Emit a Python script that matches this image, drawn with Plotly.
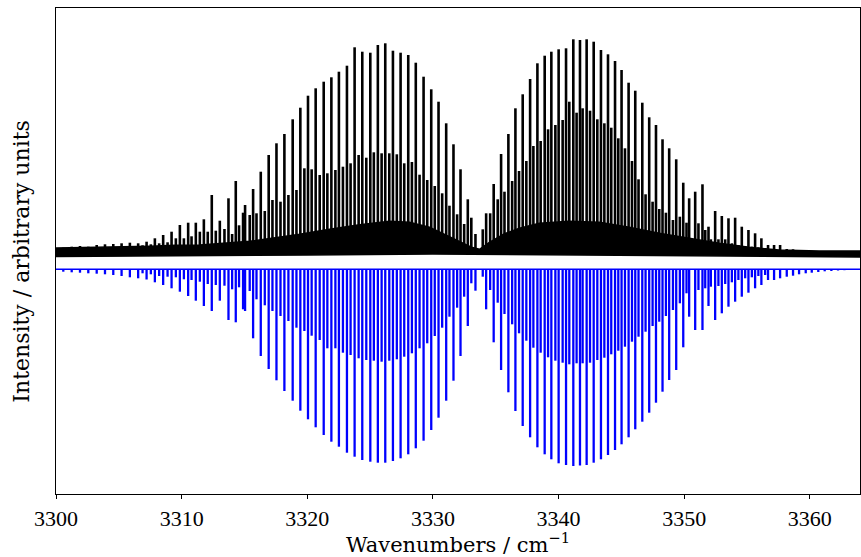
import plotly.graph_objects as go

# ---- strong series (alternating-intensity branch lines) ----
s_pos = [3300.58, 3301.25, 3301.91, 3302.57, 3303.24, 3303.90, 3304.56, 3305.22, 3305.88, 3306.54,
         3307.21, 3307.87, 3308.53, 3309.20, 3309.86, 3310.52, 3311.13, 3311.77, 3312.40, 3313.04,
         3313.73, 3314.31, 3315.05, 3315.69, 3316.30, 3316.93, 3317.55, 3318.18, 3318.84, 3319.45,
         3320.06, 3320.67, 3321.31, 3321.92, 3322.52, 3323.16, 3323.77, 3324.38, 3325.02, 3325.62,
         3326.21, 3326.82, 3327.43, 3328.04, 3328.64, 3329.26, 3329.87, 3330.45, 3331.06, 3331.64,
         3332.20, 3332.78, 3333.39, 3334.24, 3334.84, 3335.43, 3336.01, 3336.57, 3337.15, 3337.74,
         3338.32, 3338.90, 3339.43, 3340.01, 3340.60, 3341.18, 3341.71, 3342.24, 3342.80, 3343.38,
         3343.94, 3344.50, 3345.02, 3345.58, 3346.11, 3346.67, 3347.22, 3347.76, 3348.28, 3348.81,
         3349.37, 3349.93, 3350.40, 3350.88, 3351.46, 3351.94, 3352.47, 3353.00, 3353.53, 3354.06,
         3354.59, 3355.12, 3355.65, 3356.15, 3356.68, 3357.16, 3357.64, 3358.17, 3358.67, 3359.15,
         3359.68, 3360.16, 3360.68, 3361.19, 3361.72, 3362.25, 3362.76, 3363.28]
s_sim = [-2.4, -3.0, -3.4, -4.0, -4.4, -5.0, -5.7, -6.7, -8.0, -9.0,
         -10.2, -13.0, -15.7, -19.0, -22.4, -26.7, -31.4, -36.7, -41.7, -31.4,
         -50.7, -53.0, -41.7, -69.0, -86.7, -99.7, -111.0, -121.7, -131.4, -141.4,
         -150.0, -158.0, -165.7, -172.4, -177.4, -183.4, -187.4, -190.7, -192.4, -193.4,
         -193.4, -191.7, -189.0, -185.0, -179.0, -171.4, -160.7, -148.4, -131.4, -111.4,
         -86.7, -56.7, -21.4, -40.0, -73.0, -100.7, -123.0, -141.7, -156.7, -168.0,
         -178.0, -185.0, -190.0, -194.0, -195.7, -196.7, -196.2, -195.7, -193.4, -190.0,
         -185.7, -180.7, -175.0, -168.0, -160.0, -152.4, -143.4, -133.4, -122.4, -110.7,
         -100.7, -78.0, -47.4, -60.7, -60.7, -36.7, -50.7, -44.0, -37.4, -32.4,
         -27.4, -23.4, -19.0, -15.7, -10.7, -10.7, -9.0, -7.4, -6.4, -5.0,
         -4.0, -3.4, -2.7, -2.0, -1.7, -1.2, -0.9, -0.7]
s_exp = [21.6, 22.6, 23.3, 22.6, 24.3, 25.0, 25.3, 26.0, 26.6, 26.0,
         27.6, 31.0, 34.3, 37.6, 44.3, 46.6, 46.6, 50.0, 74.3, 48.6,
         71.0, 88.3, 64.3, 80.3, 97.6, 114.3, 126.0, 135.3, 150.0, 161.6,
         173.6, 181.0, 187.6, 192.0, 197.6, 203.6, 222.0, 217.6, 216.6, 224.3,
         226.0, 218.6, 216.6, 214.3, 206.6, 192.6, 180.0, 167.6, 146.0, 125.0,
         100.0, 70.0, 35.3, 56.0, 85.3, 115.3, 135.3, 161.0, 175.0, 190.3,
         206.0, 213.6, 217.6, 220.0, 221.0, 230.0, 229.3, 230.0, 227.6, 219.3,
         215.0, 208.3, 199.3, 186.6, 178.6, 166.6, 152.0, 144.3, 130.0, 121.0,
         110.0, 86.6, 71.0, 77.6, 85.0, 42.6, 58.3, 53.3, 51.0, 51.6,
         42.6, 39.3, 36.0, 31.0, 24.3, 24.3, 24.3, 20.3, 20.0, 19.3,
         18.6, 18.3, 18.3, 18.3, 18.3, 18.0, 18.0, 18.0]

# ---- weaker interleaved series ----
m_pos = [3306.89, 3307.55, 3308.21, 3308.88, 3309.54, 3310.18, 3310.79, 3311.45, 3312.08, 3312.72,
         3313.41, 3314.02, 3314.57, 3314.89, 3315.42, 3315.96, 3316.62, 3317.23, 3317.87, 3318.50,
         3319.14, 3319.77, 3320.35, 3320.99, 3321.60, 3322.24, 3322.84, 3323.45, 3324.09, 3324.70,
         3325.30, 3325.92, 3326.53, 3327.13, 3327.72, 3328.33, 3328.94, 3329.55, 3330.15, 3330.74,
         3331.32, 3331.93, 3332.49, 3333.06, 3333.97, 3334.56, 3335.16, 3335.70, 3336.31, 3336.86,
         3337.44, 3338.00, 3338.58, 3339.17, 3339.75, 3340.33, 3340.86, 3341.44, 3341.92, 3342.51,
         3343.09, 3343.65, 3344.20, 3344.76, 3345.29, 3345.85, 3346.37, 3346.93, 3347.49, 3348.02,
         3348.55, 3349.11, 3349.66, 3350.19, 3351.14, 3351.68, 3352.13, 3352.73, 3353.27, 3353.80,
         3354.32, 3354.86, 3355.39, 3355.91, 3356.45]
m_sim = [-4.0, -5.0, -6.7, -7.4, -8.0, -10.0, -10.7, -12.4, -14.7, -15.7,
         -16.4, -20.0, -18.0, -40.0, -21.7, -30.0, -36.0, -41.7, -46.7, -51.7,
         -58.4, -61.7, -66.4, -70.7, -79.0, -79.0, -83.4, -85.7, -89.0, -90.7,
         -91.4, -92.4, -91.4, -90.0, -87.4, -84.0, -79.0, -74.0, -66.7, -58.4,
         -47.4, -38.4, -27.4, -14.0, -7.4, -20.7, -33.4, -44.7, -55.0, -64.0,
         -71.4, -78.4, -83.4, -88.0, -91.4, -93.4, -95.0, -94.0, -94.0, -93.4,
         -90.7, -88.4, -85.0, -81.4, -77.4, -72.4, -67.4, -62.4, -56.7, -52.4,
         -46.7, -40.7, -34.0, -24.0, -20.7, -19.0, -17.4, -16.7, -14.7, -13.0,
         -10.7, -9.0, -8.0, -6.7, -5.7]
m_exp = [24, 25, 26, 27, 31, 31, 33, 37.6, 37.6, 38.6,
         40.3, 35.3, 44.0, 56.6, 54.3, 56.0, 58.3, 69.3, 67.6, 74.3,
         79.3, 101.0, 100.0, 94.3, 96.0, 99.3, 102.6, 106.0, 114.3, 111.6,
         117.0, 116.0, 116.0, 115.0, 106.0, 107.3, 94.6, 89.3, 83.3, 76.0,
         63.6, 55.0, 45.3, 51.6, 40.0, 56.0, 70.0, 77.6, 88.3, 98.3,
         108.3, 123.3, 128.3, 140.0, 144.3, 149.3, 167.6, 156.6, 161.0, 158.6,
         150.0, 146.0, 141.6, 131.0, 121.0, 108.3, 90.0, 75.0, 67.6, 60.3,
         56.6, 49.3, 52.6, 46.6, 46.0, 39.3, 30.0, 30.0, 30.0, 26.0,
         24.3, 23.3, 22.6, 22.0, 21.3]

# ---- dense weak-line forest / noise band of the experimental trace ----
env_x = [3300.0, 3303.5, 3307.47, 3309.46, 3311.45, 3315.42, 3319.40, 3321.78, 3324.17, 3326.55,
         3328.14, 3329.73, 3330.93, 3332.12, 3333.07, 3333.71, 3334.50, 3335.70, 3336.89, 3338.48,
         3340.86, 3343.25, 3345.63, 3348.02, 3350.40, 3352.79, 3355.17, 3357.56, 3360.74, 3364.0]
env_top = [21.3, 21.8, 23.0, 24.0, 24.3, 28.0, 35.0, 40.0, 44.5, 48.0,
           47.0, 42.0, 35.0, 28.0, 22.0, 20.0, 27.0, 35.5, 41.0, 46.0,
           48.0, 47.0, 42.0, 36.0, 31.0, 26.0, 22.0, 19.3, 18.3, 18.3]
low_x = [3300.0, 3320.0, 3330.0, 3340.0, 3364.0]
low_y = [12.8, 14.3, 15.3, 14.3, 12.3]

exp_base = 16.3
sim_base = 0.0

assert len(s_pos) == len(s_sim) == len(s_exp)
assert len(m_pos) == len(m_sim) == len(m_exp)
assert len(env_x) == len(env_top)


def sticks(pos, vals, base):
    X, Y = [], []
    for p, v in zip(pos, vals):
        X += [p, p, None]
        Y += [base, v, None]
    return X, Y


fig = go.Figure()

# experimental band
fig.add_trace(go.Scatter(x=env_x + low_x[::-1], y=env_top + low_y[::-1], mode="lines",
                         fill="toself", fillcolor="black", line=dict(color="black", width=1.5),
                         hoverinfo="skip"))
ex, ey = sticks(m_pos + s_pos, m_exp + s_exp, exp_base)
fig.add_trace(go.Scatter(x=ex, y=ey, mode="lines", line=dict(color="black", width=2.6)))

# simulation
fig.add_trace(go.Scatter(x=[3300, 3364], y=[sim_base, sim_base], mode="lines",
                         line=dict(color="blue", width=1.6)))
sx, sy = sticks(m_pos + s_pos, m_sim + s_sim, sim_base)
fig.add_trace(go.Scatter(x=sx, y=sy, mode="lines", line=dict(color="blue", width=2.3)))

tick_font = "Liberation Serif"
title_font = "DejaVu Serif"
fig.update_layout(
    width=861, height=557, autosize=False,
    margin=dict(l=56, r=1, t=8, b=63),
    plot_bgcolor="white", paper_bgcolor="white",
    showlegend=False,
    font=dict(family=tick_font, color="black"),
)
fig.update_xaxes(
    range=[3300, 3364], showgrid=False, zeroline=False, automargin=False,
    showline=True, mirror=True, linecolor="black", linewidth=1.3,
    ticks="outside", ticklen=4, tickwidth=1.3, tickcolor="black",
    tickvals=[3300, 3310, 3320, 3330, 3340, 3350, 3360],
    ticktext=["3300", "3310", "3320", "3330", "3340", "3350", "3360"],
    tickfont=dict(size=22, family=tick_font),
    title=dict(text="Wavenumbers / cm<sup>−1</sup>", font=dict(size=21, family=title_font), standoff=6),
)
fig.update_yaxes(
    range=[-224.7, 261.3], showgrid=False, zeroline=False, automargin=False,
    showline=True, mirror=True, linecolor="black", linewidth=1.3,
    showticklabels=False, ticks="",
)
fig.add_annotation(
    text="Intensity / arbitrary units", textangle=-90,
    xref="paper", yref="paper", x=-0.0423, y=0.48, xanchor="center", yanchor="middle",
    showarrow=False, font=dict(size=22, family=title_font, color="black"),
)

fig.write_html("out.html", config={"displayModeBar": False},
               post_script="document.body.style.margin='0';document.body.style.overflow='hidden';")
